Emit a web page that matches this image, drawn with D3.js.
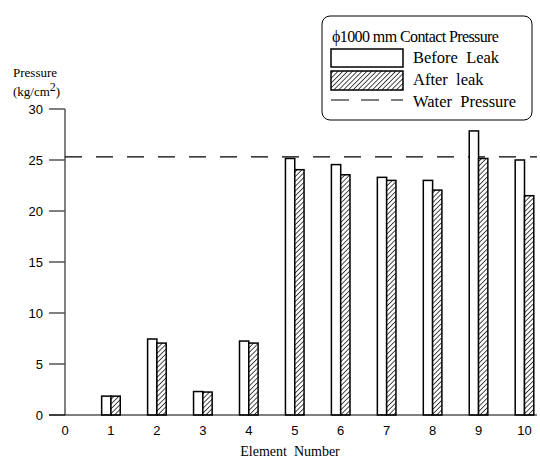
<!DOCTYPE html>
<html lang="en">
<head>
  <meta charset="UTF-8">
  <title>Contact Pressure</title>
  <script src="https://d3js.org/d3.v7.min.js"></script>
  <style>
    body
    {
      margin: 0;
      background: #fff;
    }
    svg
    {
      display: block;
    }
    .serif
    {
      font-family: "Liberation Serif", "Times New Roman", serif;
    }
    .sans
    {
      font-family: "Liberation Sans", Arial, sans-serif;
    }
  </style>
</head>
<body>
  <svg width="540" height="461"></svg>
  <script>
    // data
    const elements = [1, 2, 3, 4, 5, 6, 7, 8, 9, 10];
    const beforeLeak = [1.85, 7.45, 2.3, 7.25, 25.15, 24.55, 23.3, 23.0, 27.85, 25.0];
    const afterLeak = [1.85, 7.05, 2.25, 7.05, 24.05, 23.55, 23.0, 22.05, 25.15, 21.5];
    const waterPressure = 25.3;
    const xTicks = [0, 1, 2, 3, 4, 5, 6, 7, 8, 9, 10];
    const yTicks = [0, 5, 10, 15, 20, 25, 30];

    const svg = d3.select("svg");

    const x = d3.scaleLinear().domain([0, 10]).range([65, 524.5]);
    const y = d3.scaleLinear().domain([0, 30]).range([415, 109]);
    const barW = 9.3;

    // hatch pattern
    const defs = svg.append("defs");
    const pat = defs.append("pattern")
      .attr("id", "hatch")
      .attr("patternUnits", "userSpaceOnUse")
      .attr("width", 3.4)
      .attr("height", 3.4)
      .attr("patternTransform", "rotate(45)");
    pat.append("rect").attr("width", 3.4).attr("height", 3.4).attr("fill", "#fff");
    pat.append("line")
      .attr("x1", 0).attr("y1", 0).attr("x2", 0).attr("y2", 3.4)
      .attr("stroke", "#000").attr("stroke-width", 1.4);

    // water pressure line
    svg.append("line")
      .attr("x1", x(0)).attr("x2", 537)
      .attr("y1", y(waterPressure)).attr("y2", y(waterPressure))
      .attr("stroke", "#000").attr("stroke-width", 1.2)
      .attr("stroke-dasharray", "17,14");

    // bars
    svg.append("g").selectAll("rect")
      .data(elements)
      .join("rect")
      .attr("x", (d, i) => x(d) - barW)
      .attr("y", (d, i) => y(beforeLeak[i]))
      .attr("width", barW)
      .attr("height", (d, i) => y(0) - y(beforeLeak[i]))
      .attr("fill", "#fff")
      .attr("stroke", "#000")
      .attr("stroke-width", 1.5);

    svg.append("g").selectAll("rect")
      .data(elements)
      .join("rect")
      .attr("x", d => x(d))
      .attr("y", (d, i) => y(afterLeak[i]))
      .attr("width", barW)
      .attr("height", (d, i) => y(0) - y(afterLeak[i]))
      .attr("fill", "url(#hatch)")
      .attr("stroke", "#000")
      .attr("stroke-width", 1.5);

    // y axis
    const yAxis = svg.append("g");
    yAxis.append("line")
      .attr("x1", x(0)).attr("x2", x(0))
      .attr("y1", y(30)).attr("y2", y(0))
      .attr("stroke", "#000").attr("stroke-width", 1);
    yAxis.selectAll(".tick")
      .data(yTicks)
      .join("line")
      .attr("x1", 49).attr("x2", x(0))
      .attr("y1", d => y(d)).attr("y2", d => y(d))
      .attr("stroke", "#555").attr("stroke-width", 1.5);
    yAxis.selectAll("text")
      .data(yTicks)
      .join("text")
      .attr("class", "sans")
      .attr("x", 43)
      .attr("y", d => y(d))
      .attr("dy", "0.35em")
      .attr("text-anchor", "end")
      .attr("font-size", 13)
      .text(d => d);

    // x axis
    svg.append("line")
      .attr("x1", 49).attr("x2", 537)
      .attr("y1", y(0)).attr("y2", y(0))
      .attr("stroke", "#000").attr("stroke-width", 1);
    svg.append("g").selectAll("text")
      .data(xTicks)
      .join("text")
      .attr("class", "sans")
      .attr("x", d => x(d))
      .attr("y", 430)
      .attr("dy", "0.35em")
      .attr("text-anchor", "middle")
      .attr("font-size", 13)
      .text(d => d);

    svg.append("text")
      .attr("class", "serif")
      .attr("x", 290).attr("y", 456)
      .attr("text-anchor", "middle")
      .attr("font-size", 14)
      .style("white-space", "pre")
      .text("Element  Number");

    // y label
    svg.append("text")
      .attr("class", "serif")
      .attr("x", 13).attr("y", 77)
      .attr("font-size", 13)
      .text("Pressure");
    const yl = svg.append("text")
      .attr("class", "serif")
      .attr("x", 13).attr("y", 96)
      .attr("font-size", 13);
    yl.append("tspan").text("(kg/cm");
    yl.append("tspan").attr("dy", -5).attr("font-size", 12).text("2");
    yl.append("tspan").attr("dy", 5).text(")");

    // legend
    const lg = svg.append("g");
    lg.append("rect")
      .attr("x", 322).attr("y", 16)
      .attr("width", 210).attr("height", 104)
      .attr("rx", 8)
      .attr("fill", "#fff").attr("stroke", "#000").attr("stroke-width", 1);
    lg.append("text")
      .attr("class", "serif")
      .attr("x", 332).attr("y", 42)
      .attr("font-size", 16)
      .attr("letter-spacing", -0.6)
      .text("\u03d51000 mm Contact Pressure");
    lg.append("rect")
      .attr("x", 331).attr("y", 49).attr("width", 72).attr("height", 18)
      .attr("fill", "#fff").attr("stroke", "#000").attr("stroke-width", 1.5);
    lg.append("rect")
      .attr("x", 331).attr("y", 71).attr("width", 72).attr("height", 19)
      .attr("fill", "url(#hatch)").attr("stroke", "#000").attr("stroke-width", 1.5);
    lg.append("line")
      .attr("x1", 331).attr("x2", 403).attr("y1", 100).attr("y2", 100)
      .attr("stroke", "#000").attr("stroke-width", 1.2)
      .attr("stroke-dasharray", "18,12");
    const labels = ["Before  Leak", "After  leak", "Water  Pressure"];
    const labelY = [63, 85, 107];
    lg.selectAll(".lab")
      .data(labels)
      .join("text")
      .attr("class", "serif")
      .attr("x", 413)
      .attr("y", (d, i) => labelY[i])
      .attr("font-size", 16.5)
      .style("white-space", "pre")
      .text(d => d);
  </script>
</body>
</html>
